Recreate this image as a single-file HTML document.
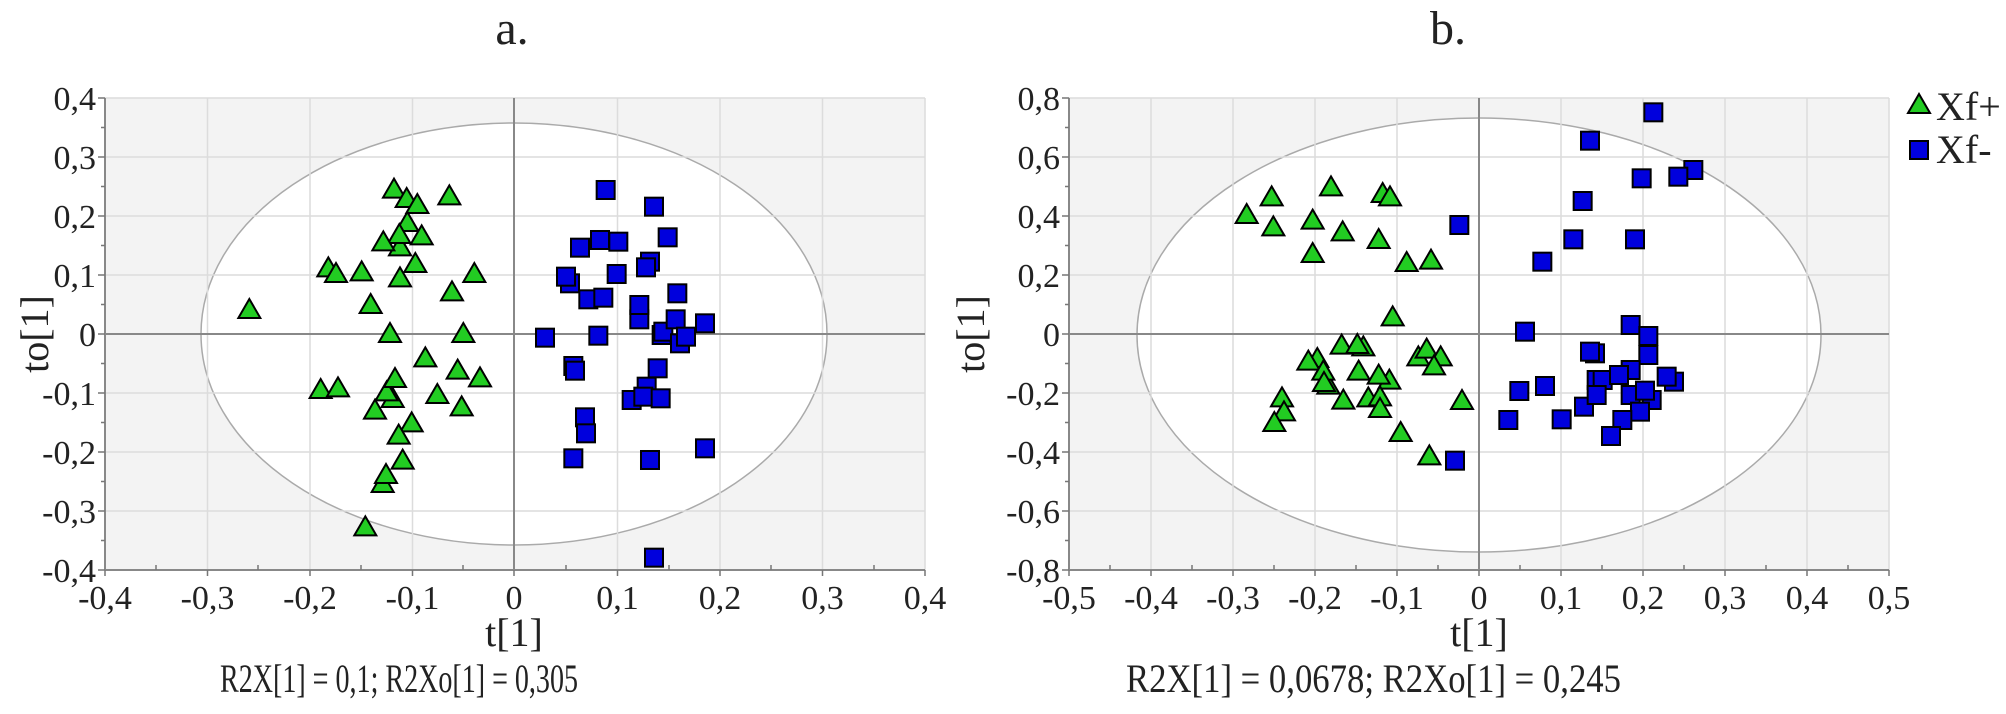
<!DOCTYPE html>
<html><head><meta charset="utf-8"><style>
html,body{margin:0;padding:0;background:#fff;}
svg{display:block;}
text{font-family:"Liberation Serif",serif;fill:#222;}
</style></head><body>
<svg width="2006" height="714" viewBox="0 0 2006 714" xmlns="http://www.w3.org/2000/svg">
<defs>
<path id="tri" d="M0,-36L33,21L-33,21Z" fill="#22cc22" stroke="#000" stroke-width="6" stroke-linejoin="miter"/>
<rect id="sq" x="-27" y="-27" width="54" height="54" fill="#0000dd" stroke="#000" stroke-width="6"/>
<clipPath id="ca"><rect x="105" y="98" width="820" height="472"/></clipPath>
<clipPath id="cb"><rect x="1069" y="98" width="820" height="472"/></clipPath>
</defs>

<!-- Panel a -->
<rect x="105" y="98" width="820" height="472" fill="#f3f3f3"/>
<ellipse cx="514" cy="334" rx="313" ry="211" fill="#fff" stroke="#aaa" stroke-width="1.5" clip-path="url(#ca)"/>
<g stroke="#dcdcdc" stroke-width="1.5">
<line x1="207.5" y1="98" x2="207.5" y2="570"/><line x1="310" y1="98" x2="310" y2="570"/><line x1="412.5" y1="98" x2="412.5" y2="570"/><line x1="617.5" y1="98" x2="617.5" y2="570"/><line x1="720" y1="98" x2="720" y2="570"/><line x1="822.5" y1="98" x2="822.5" y2="570"/><line x1="925" y1="98" x2="925" y2="570"/>
<line x1="105" y1="98" x2="925" y2="98"/><line x1="105" y1="157" x2="925" y2="157"/><line x1="105" y1="216" x2="925" y2="216"/><line x1="105" y1="275" x2="925" y2="275"/><line x1="105" y1="393" x2="925" y2="393"/><line x1="105" y1="452" x2="925" y2="452"/><line x1="105" y1="511" x2="925" y2="511"/>
</g>
<g stroke="#888" stroke-width="2">
<line x1="514" y1="98" x2="514" y2="570"/><line x1="105" y1="334" x2="925" y2="334"/>
<line x1="105" y1="98" x2="105" y2="570"/><line x1="105" y1="570" x2="925" y2="570"/>
</g>
<g stroke="#777" stroke-width="1.5">
<path d="M98,98h7M98,157h7M98,216h7M98,275h7M98,334h7M98,393h7M98,452h7M98,511h7M98,570h7"/>
<path d="M101,127.5h4M101,186.5h4M101,245.5h4M101,304.5h4M101,363.5h4M101,422.5h4M101,481.5h4M101,540.5h4"/>
<path d="M105,570v6M207.5,570v6M310,570v6M412.5,570v6M514,570v6M617.5,570v6M720,570v6M822.5,570v6M925,570v6"/>
<path d="M156,570v-5M258,570v-5M361,570v-5M463,570v-5M566,570v-5M669,570v-5M771,570v-5M874,570v-5"/>
</g>
<g font-size="34" text-anchor="end">
<text x="96" y="110">0,4</text><text x="96" y="169">0,3</text><text x="96" y="228">0,2</text><text x="96" y="287">0,1</text><text x="96" y="346">0</text><text x="96" y="405">-0,1</text><text x="96" y="464">-0,2</text><text x="96" y="523">-0,3</text><text x="96" y="582">-0,4</text>
</g>
<g font-size="34" text-anchor="middle">
<text x="105" y="609">-0,4</text><text x="207.5" y="609">-0,3</text><text x="310" y="609">-0,2</text><text x="412.5" y="609">-0,1</text><text x="514" y="609">0</text><text x="617.5" y="609">0,1</text><text x="720" y="609">0,2</text><text x="822.5" y="609">0,3</text><text x="925" y="609">0,4</text>
</g>
<text x="514" y="646" font-size="40" text-anchor="middle">t[1]</text>
<text x="220" y="692" font-size="40" textLength="358" lengthAdjust="spacingAndGlyphs">R2X[1] = 0,1; R2Xo[1] = 0,305</text>
<text x="512" y="44" font-size="48" text-anchor="middle">a.</text>
<text transform="translate(48,334) rotate(-90)" font-size="40" text-anchor="middle">to[1]</text>

<g transform="translate(200,180) scale(0.33333)">
<use href="#tri" x="582" y="32"/><use href="#tri" x="620" y="60"/><use href="#tri" x="652" y="78"/><use href="#tri" x="748" y="52"/><use href="#tri" x="622" y="132"/><use href="#tri" x="600" y="205"/><use href="#tri" x="598" y="168"/><use href="#tri" x="665" y="172"/><use href="#tri" x="550" y="190"/><use href="#tri" x="385" y="268"/><use href="#tri" x="408" y="285"/><use href="#tri" x="485" y="280"/><use href="#tri" x="646" y="255"/><use href="#tri" x="600" y="298"/><use href="#tri" x="823" y="285"/><use href="#tri" x="756" y="340"/><use href="#tri" x="512" y="378"/><use href="#tri" x="148" y="393"/><use href="#tri" x="570" y="465"/><use href="#tri" x="790" y="465"/><use href="#tri" x="676" y="538"/><use href="#tri" x="773" y="575"/><use href="#tri" x="840" y="598"/><use href="#tri" x="578" y="660"/><use href="#tri" x="560" y="640"/><use href="#tri" x="585" y="600"/><use href="#tri" x="362" y="633"/><use href="#tri" x="414" y="628"/><use href="#tri" x="712" y="648"/><use href="#tri" x="785" y="685"/><use href="#tri" x="525" y="695"/><use href="#tri" x="635" y="733"/><use href="#tri" x="596" y="770"/><use href="#tri" x="608" y="845"/><use href="#tri" x="548" y="915"/><use href="#tri" x="558" y="888"/><use href="#tri" x="496" y="1045"/>
</g>
<g transform="translate(510,180) scale(0.33333)">
<use href="#sq" x="287" y="30"/><use href="#sq" x="432" y="80"/><use href="#sq" x="473" y="172"/><use href="#sq" x="210" y="203"/><use href="#sq" x="270" y="180"/><use href="#sq" x="325" y="185"/><use href="#sq" x="420" y="245"/><use href="#sq" x="408" y="262"/><use href="#sq" x="180" y="310"/><use href="#sq" x="168" y="290"/><use href="#sq" x="320" y="282"/><use href="#sq" x="235" y="358"/><use href="#sq" x="280" y="353"/><use href="#sq" x="388" y="418"/><use href="#sq" x="388" y="375"/><use href="#sq" x="502" y="340"/><use href="#sq" x="455" y="465"/><use href="#sq" x="460" y="455"/><use href="#sq" x="497" y="418"/><use href="#sq" x="585" y="430"/><use href="#sq" x="510" y="490"/><use href="#sq" x="528" y="470"/><use href="#sq" x="105" y="473"/><use href="#sq" x="265" y="467"/><use href="#sq" x="190" y="558"/><use href="#sq" x="195" y="572"/><use href="#sq" x="443" y="565"/><use href="#sq" x="410" y="620"/><use href="#sq" x="365" y="660"/><use href="#sq" x="400" y="650"/><use href="#sq" x="452" y="655"/><use href="#sq" x="225" y="712"/><use href="#sq" x="228" y="760"/><use href="#sq" x="190" y="835"/><use href="#sq" x="420" y="840"/><use href="#sq" x="585" y="805"/><use href="#sq" x="432" y="1133"/>
</g>

<!-- Panel b -->
<rect x="1069" y="98" width="820" height="472" fill="#f3f3f3"/>
<ellipse cx="1479" cy="335" rx="342" ry="217" fill="#fff" stroke="#aaa" stroke-width="1.5" clip-path="url(#cb)"/>
<g stroke="#dcdcdc" stroke-width="1.5">
<line x1="1151" y1="98" x2="1151" y2="570"/><line x1="1233" y1="98" x2="1233" y2="570"/><line x1="1315" y1="98" x2="1315" y2="570"/><line x1="1397" y1="98" x2="1397" y2="570"/><line x1="1561" y1="98" x2="1561" y2="570"/><line x1="1643" y1="98" x2="1643" y2="570"/><line x1="1725" y1="98" x2="1725" y2="570"/><line x1="1807" y1="98" x2="1807" y2="570"/><line x1="1889" y1="98" x2="1889" y2="570"/>
<line x1="1069" y1="98" x2="1889" y2="98"/><line x1="1069" y1="157" x2="1889" y2="157"/><line x1="1069" y1="216" x2="1889" y2="216"/><line x1="1069" y1="275" x2="1889" y2="275"/><line x1="1069" y1="393" x2="1889" y2="393"/><line x1="1069" y1="452" x2="1889" y2="452"/><line x1="1069" y1="511" x2="1889" y2="511"/>
</g>
<g stroke="#888" stroke-width="2">
<line x1="1479" y1="98" x2="1479" y2="570"/><line x1="1069" y1="334" x2="1889" y2="334"/>
<line x1="1069" y1="98" x2="1069" y2="570"/><line x1="1069" y1="570" x2="1889" y2="570"/>
</g>
<g stroke="#777" stroke-width="1.5">
<path d="M1062,98h7M1062,157h7M1062,216h7M1062,275h7M1062,334h7M1062,393h7M1062,452h7M1062,511h7M1062,570h7"/>
<path d="M1065,127.5h4M1065,186.5h4M1065,245.5h4M1065,304.5h4M1065,363.5h4M1065,422.5h4M1065,481.5h4M1065,540.5h4"/>
<path d="M1069,570v6M1151,570v6M1233,570v6M1315,570v6M1397,570v6M1479,570v6M1561,570v6M1643,570v6M1725,570v6M1807,570v6M1889,570v6"/>
<path d="M1110,570v-5M1192,570v-5M1274,570v-5M1356,570v-5M1438,570v-5M1520,570v-5M1602,570v-5M1684,570v-5M1766,570v-5M1848,570v-5"/>
</g>
<g font-size="34" text-anchor="end">
<text x="1060" y="110">0,8</text><text x="1060" y="169">0,6</text><text x="1060" y="228">0,4</text><text x="1060" y="287">0,2</text><text x="1060" y="346">0</text><text x="1060" y="405">-0,2</text><text x="1060" y="464">-0,4</text><text x="1060" y="523">-0,6</text><text x="1060" y="582">-0,8</text>
</g>
<g font-size="34" text-anchor="middle">
<text x="1069" y="609">-0,5</text><text x="1151" y="609">-0,4</text><text x="1233" y="609">-0,3</text><text x="1315" y="609">-0,2</text><text x="1397" y="609">-0,1</text><text x="1479" y="609">0</text><text x="1561" y="609">0,1</text><text x="1643" y="609">0,2</text><text x="1725" y="609">0,3</text><text x="1807" y="609">0,4</text><text x="1889" y="609">0,5</text>
</g>
<text x="1479" y="646" font-size="40" text-anchor="middle">t[1]</text>
<text x="1126" y="692" font-size="40" textLength="495" lengthAdjust="spacingAndGlyphs">R2X[1] = 0,0678; R2Xo[1] = 0,245</text>
<text x="1448" y="44" font-size="48" text-anchor="middle">b.</text>
<text transform="translate(984,334) rotate(-90)" font-size="40" text-anchor="middle">to[1]</text>

<g transform="translate(1150,180) scale(0.33333)">
<use href="#tri" x="365" y="55"/><use href="#tri" x="543" y="25"/><use href="#tri" x="698" y="45"/><use href="#tri" x="720" y="55"/><use href="#tri" x="290" y="108"/><use href="#tri" x="370" y="145"/><use href="#tri" x="488" y="125"/><use href="#tri" x="578" y="160"/><use href="#tri" x="686" y="183"/><use href="#tri" x="488" y="225"/><use href="#tri" x="770" y="252"/><use href="#tri" x="843" y="245"/><use href="#tri" x="728" y="415"/><use href="#tri" x="575" y="500"/><use href="#tri" x="640" y="505"/><use href="#tri" x="622" y="498"/><use href="#tri" x="502" y="540"/><use href="#tri" x="475" y="548"/><use href="#tri" x="535" y="620"/><use href="#tri" x="520" y="578"/><use href="#tri" x="522" y="612"/><use href="#tri" x="626" y="578"/><use href="#tri" x="718" y="605"/><use href="#tri" x="686" y="590"/><use href="#tri" x="805" y="535"/><use href="#tri" x="830" y="512"/><use href="#tri" x="872" y="535"/><use href="#tri" x="852" y="562"/><use href="#tri" x="396" y="658"/><use href="#tri" x="402" y="700"/><use href="#tri" x="373" y="732"/><use href="#tri" x="580" y="665"/><use href="#tri" x="655" y="658"/><use href="#tri" x="690" y="655"/><use href="#tri" x="690" y="690"/><use href="#tri" x="752" y="762"/><use href="#tri" x="838" y="832"/><use href="#tri" x="936" y="666"/>
</g>
<g transform="translate(1420,80) scale(0.33333)">
<use href="#sq" x="700" y="97"/><use href="#sq" x="510" y="182"/><use href="#sq" x="665" y="295"/><use href="#sq" x="820" y="270"/><use href="#sq" x="775" y="290"/><use href="#sq" x="488" y="363"/><use href="#sq" x="118" y="435"/><use href="#sq" x="460" y="478"/><use href="#sq" x="645" y="478"/><use href="#sq" x="367" y="545"/><use href="#sq" x="632" y="735"/><use href="#sq" x="685" y="768"/><use href="#sq" x="685" y="825"/><use href="#sq" x="315" y="755"/><use href="#sq" x="525" y="820"/><use href="#sq" x="510" y="815"/><use href="#sq" x="530" y="900"/><use href="#sq" x="548" y="900"/><use href="#sq" x="632" y="870"/><use href="#sq" x="597" y="885"/><use href="#sq" x="762" y="905"/><use href="#sq" x="740" y="890"/><use href="#sq" x="298" y="933"/><use href="#sq" x="375" y="918"/><use href="#sq" x="492" y="980"/><use href="#sq" x="530" y="945"/><use href="#sq" x="695" y="960"/><use href="#sq" x="632" y="945"/><use href="#sq" x="675" y="932"/><use href="#sq" x="660" y="995"/><use href="#sq" x="265" y="1020"/><use href="#sq" x="425" y="1018"/><use href="#sq" x="607" y="1020"/><use href="#sq" x="573" y="1068"/><use href="#sq" x="105" y="1142"/>
</g>

<!-- Legend -->
<g transform="translate(1919,106) scale(0.33333)"><use href="#tri" x="0" y="0"/></g>
<text x="1936" y="120" font-size="40">Xf+</text>
<g transform="translate(1919,150) scale(0.33333)"><use href="#sq" x="0" y="0"/></g>
<text x="1936" y="163" font-size="40">Xf-</text>
</svg>
</body></html>
